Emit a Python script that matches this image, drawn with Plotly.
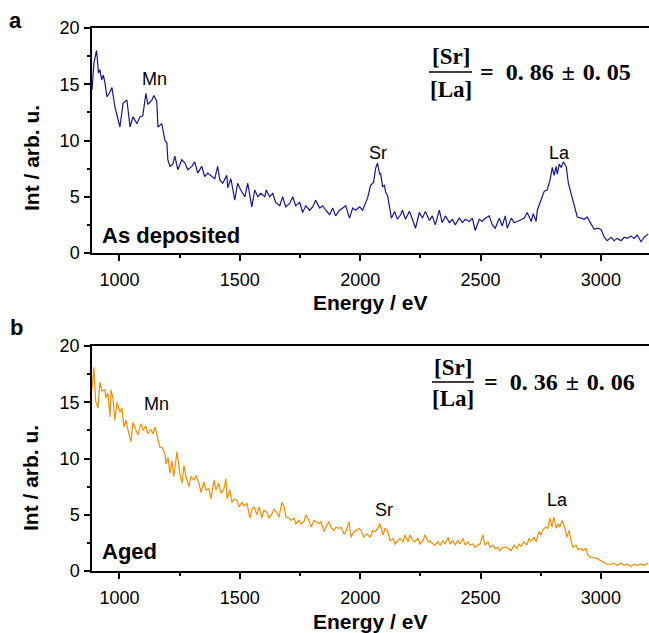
import plotly.graph_objects as go

# ---------------- data ----------------
top_energy = [886, 894, 905, 913, 919, 926, 933, 940, 948, 958, 969, 981, 1002, 1015, 1031, 1044,
              1056, 1073, 1085, 1097, 1110, 1118, 1135, 1143, 1155, 1160, 1176, 1189, 1197, 1201,
              1210, 1222, 1230, 1243, 1259, 1272, 1284, 1301, 1313, 1325, 1342, 1354, 1367, 1384,
              1396, 1408, 1417, 1429, 1446,
              1450, 1463, 1479, 1491, 1504, 1521, 1533, 1550, 1562, 1575, 1587, 1604, 1610, 1624,
              1637, 1649, 1666, 1678, 1691, 1707, 1720, 1732, 1749, 1761, 1774, 1790, 1803, 1815,
              1832, 1844, 1857, 1873, 1886, 1898, 1915, 1927, 1940, 1956, 1969, 1981, 1998, 2010,
              2031, 2043, 2056, 2064, 2072, 2081, 2085, 2093, 2101, 2106, 2114, 2122, 2130, 2143,
              2155, 2168, 2176, 2188, 2205, 2217, 2230, 2246, 2259, 2271, 2288, 2300, 2312, 2329,
              2341, 2354, 2371, 2383, 2395, 2412, 2425, 2437, 2454, 2466, 2478, 2495, 2507, 2520,
              2536, 2549, 2561, 2578, 2590, 2603,
              2611, 2628, 2640, 2653, 2669, 2682, 2694, 2711, 2719, 2731, 2736, 2744, 2756, 2765,
              2777, 2789, 2798, 2806, 2814, 2819, 2827, 2835, 2844, 2856, 2865, 2877, 2885, 2893,
              2902, 2918, 2931, 2943, 2960, 2972, 2985, 3001, 3014, 3026, 3043, 3055, 3068, 3084,
              3097, 3109, 3126, 3138, 3151, 3167, 3180, 3197]
top_intensity = [14.5, 16.9, 18.0, 16.0, 16.3, 15.4, 15.8, 15.1, 13.9, 14.2, 14.7, 13.0, 11.2, 13.3, 13.6, 11.2,
                 12.1, 11.5, 12.1, 12.2, 14.2, 13.2, 13.6, 14.0, 13.5, 11.2, 11.5, 10.0, 9.8, 8.3,
                 7.7, 7.9, 8.6, 7.4, 8.3, 8.0, 7.4, 7.7, 8.1, 7.1, 7.7, 6.8, 7.1, 6.8,
                 6.6, 7.7, 6.5, 6.2, 6.9,
                 5.8, 6.6, 4.7, 6.2, 5.6, 5.0, 6.2, 4.1, 5.6, 5.0, 5.3, 5.0, 5.6, 5.0,
                 5.3, 4.5, 4.2, 5.0, 4.1, 4.4, 5.0, 4.2, 4.5, 3.6, 4.2, 3.8, 4.1, 4.7,
                 4.0, 4.2, 3.8, 3.4, 4.0, 3.3, 3.8, 4.0, 4.2, 3.1, 4.0, 3.8, 4.1, 3.8,
                 4.9, 6.0, 6.3, 7.5, 8.0, 7.0, 7.1, 5.9, 6.0, 5.4, 5.1, 4.1, 3.1, 3.7,
                 3.0, 3.4, 3.8, 3.0, 3.7, 3.0, 2.2, 3.6, 3.1, 3.7, 2.9, 3.3, 2.5, 3.8,
                 2.7, 3.3, 2.7, 3.0, 2.5, 3.1, 2.7, 3.0, 2.8, 3.1, 2.0, 3.0, 2.8, 3.1,
                 3.3, 2.5, 2.2, 3.1, 2.4, 3.3,
                 2.2, 3.1, 2.7, 2.8, 3.0, 3.1, 3.6, 2.8, 3.5, 2.8, 3.8, 4.3, 5.0, 5.5,
                 5.6, 6.5, 7.6, 6.9, 7.7, 7.0, 7.9, 7.6, 8.1, 7.7, 6.2, 5.3, 4.5, 4.1,
                 3.2, 3.1, 3.0, 3.2, 2.5, 2.1, 2.2, 2.1, 1.4, 1.1, 1.4, 1.1, 1.3, 1.1,
                 1.4, 1.3, 1.5, 1.3, 1.6, 1.0, 1.4, 1.7]

bottom_energy = [885, 894, 901, 911, 919, 927, 940, 944, 952, 961, 965, 973, 981, 990, 1002, 1010,
                 1019, 1027, 1035, 1048, 1056, 1069, 1077, 1089, 1098, 1110, 1118, 1131, 1139, 1148,
                 1156, 1168, 1177, 1189, 1193, 1202, 1210, 1218, 1226, 1239, 1251, 1260, 1268, 1276,
                 1289, 1297, 1310, 1318, 1330, 1339, 1351, 1359, 1372, 1380, 1393, 1401, 1413, 1422,
                 1434, 1443,
                 1447, 1459, 1467, 1476, 1488, 1497, 1509, 1517, 1530, 1542, 1551, 1559, 1571, 1580,
                 1592, 1600, 1613, 1621, 1634, 1642, 1654, 1663, 1675, 1683, 1692, 1704, 1713, 1725,
                 1733, 1746, 1754, 1767, 1775, 1787, 1796, 1808, 1816, 1829, 1837, 1850, 1858, 1870,
                 1879, 1891, 1900, 1912, 1920, 1933, 1941, 1954, 1962, 1974, 1983, 1995, 2003, 2016,
                 2028, 2041, 2053, 2062, 2074, 2082, 2095, 2103, 2116, 2124, 2136, 2145, 2157, 2166,
                 2178, 2186, 2199, 2207, 2220, 2228, 2240, 2249, 2261, 2269, 2282, 2290, 2303, 2311,
                 2323, 2332, 2344, 2352, 2365, 2373, 2386, 2394, 2406, 2415, 2427, 2436, 2448, 2456,
                 2469, 2477, 2490, 2498, 2510, 2519, 2531, 2539, 2552, 2560, 2573, 2581, 2593,
                 2610, 2627, 2639, 2652, 2660, 2668, 2681, 2693, 2701, 2710, 2722, 2731, 2743, 2751,
                 2760, 2772, 2780, 2789, 2797, 2805, 2814, 2822, 2830, 2839, 2851, 2859, 2868, 2876,
                 2884, 2897, 2905, 2918, 2926, 2938, 2947, 2959, 2972, 2984, 3001, 3013, 3026, 3042,
                 3055, 3067, 3084, 3096, 3109, 3125, 3138, 3150, 3167, 3179, 3196]
bottom_intensity = [16.0, 18.1, 15.1, 14.5, 16.8, 16.0, 16.1, 15.4, 15.8, 13.7, 16.1, 15.4, 13.4, 15.0, 14.1, 14.5,
                    12.8, 13.4, 12.6, 11.5, 13.2, 12.5, 12.1, 13.1, 12.5, 12.9, 12.2, 12.6, 12.2, 12.8,
                    12.1, 11.0, 11.0, 10.4, 9.5, 10.1, 8.7, 9.8, 8.4, 10.6, 8.7, 7.8, 9.4, 8.4,
                    7.5, 8.4, 8.1, 8.5, 7.8, 7.0, 7.9, 7.2, 7.3, 6.4, 8.1, 7.2, 7.8, 6.9,
                    7.3, 8.2,
                    6.4, 7.2, 6.1, 6.4, 6.3, 5.7, 6.1, 5.8, 6.0, 4.7, 5.5, 5.7, 5.0, 5.7,
                    4.7, 5.4, 5.2, 4.7, 5.1, 5.5, 5.2, 4.8, 6.1, 5.8, 4.8, 4.7, 4.5, 4.7,
                    4.2, 4.5, 4.2, 4.4, 5.0, 4.5, 3.9, 4.5, 4.4, 4.2, 4.4, 3.5, 3.9, 4.4,
                    3.9, 3.6, 3.9, 3.8, 3.9, 3.3, 3.5, 4.4, 3.0, 3.5, 3.6, 3.8, 3.6, 3.0,
                    3.3, 3.0, 3.6, 3.5, 3.8, 4.2, 3.2, 3.8, 3.5, 2.7, 2.9, 2.4, 2.7, 2.9,
                    2.6, 3.2, 2.6, 3.2, 2.7, 2.6, 2.9, 2.4, 2.7, 3.2, 2.6, 2.7, 2.4, 2.3,
                    2.6, 2.3, 2.7, 2.4, 3.0, 2.4, 2.7, 2.3, 2.7, 2.4, 2.9, 2.3, 2.6, 2.3,
                    2.4, 2.1, 2.3, 2.4, 3.2, 2.3, 2.6, 2.1, 2.3, 2.0, 2.1, 1.8, 2.1,
                    2.1, 1.8, 2.3, 2.0, 2.4, 2.2, 2.6, 2.3, 2.9, 2.6, 3.0, 2.6, 3.5, 3.2,
                    3.7, 3.9, 3.8, 4.7, 3.9, 4.8, 3.8, 4.2, 3.9, 4.5, 3.8, 3.0, 3.6, 2.7,
                    2.1, 2.3, 1.9, 2.0, 1.8, 2.0, 1.4, 1.2, 1.2, 1.1, 0.9, 0.7, 0.6, 0.6,
                    0.7, 0.5, 0.7, 0.5, 0.6, 0.4, 0.6, 0.5, 0.6, 0.5, 0.7]

x_range = [886, 3200]
y_range = [0, 20]
x_ticks = [1000, 1500, 2000, 2500, 3000]
x_minor_ticks = [1250, 1750, 2250, 2750]
y_ticks = [0, 5, 10, 15, 20]
y_minor_ticks = [2.5, 7.5, 12.5, 17.5]

x_title = "Energy / eV"
y_title = "Int / arb. u."
panel_letters = ["a", "b"]
sample_names = ["As deposited", "Aged"]
peak_names = ["Mn", "Sr", "La"]
ratio_values = ["0.86", "0.36"]
ratio_errors = ["0.05", "0.06"]

# ---------------- styling / layout ----------------
W, H = 649, 633
L, RGT = 92, 649
TOP, BOT = 28, 571
TOP_B, BOT_A = 346, 253

def px(xp):
    return (xp - L) / (RGT - L)

def py(yp):
    return (BOT - yp) / (BOT - TOP)

SANS = "Liberation Sans, Arial, sans-serif"
SERIF = "Liberation Serif, Times New Roman, serif"
BLUE = "rgb(22,22,150)"
ORANGE = "rgb(255,140,0)"

fig = go.Figure()
fig.add_trace(go.Scatter(x=top_energy, y=top_intensity, mode="lines",
                         line=dict(color=BLUE, width=1.2), xaxis="x", yaxis="y",
                         showlegend=False))
fig.add_trace(go.Scatter(x=bottom_energy, y=bottom_intensity, mode="lines",
                         line=dict(color=ORANGE, width=1.2), xaxis="x2", yaxis="y2",
                         showlegend=False))

common = dict(showline=True, linecolor="black", linewidth=1.5, ticks="outside",
              ticklen=6, tickwidth=1.5, tickcolor="black", showgrid=False,
              zeroline=False, tickfont=dict(family=SANS, size=18, color="black"),
              fixedrange=True)
xax = dict(common, range=x_range, tickmode="array", tickvals=x_ticks, mirror=True,
           ticklabelstandoff=4,
           minor=dict(tickmode="array", tickvals=x_minor_ticks, ticks="outside",
                      ticklen=3, tickwidth=1.5, tickcolor="black", showgrid=False))
yax = dict(common, range=y_range, tickmode="array", tickvals=y_ticks,
           ticklabelstandoff=1,
           minor=dict(tickmode="array", tickvals=y_minor_ticks, ticks="outside",
                      ticklen=3, tickwidth=1.5, tickcolor="black", showgrid=False))

fig.update_layout(
    width=W, height=H,
    margin=dict(l=L, r=W - RGT, t=TOP, b=H - BOT, pad=0),
    paper_bgcolor="white", plot_bgcolor="white",
    xaxis=dict(xax, domain=[0, 1], anchor="y"),
    yaxis=dict(yax, domain=[py(BOT_A), 1], anchor="x"),
    xaxis2=dict(xax, domain=[0, 1], anchor="y2"),
    yaxis2=dict(yax, domain=[0, py(TOP_B)], anchor="x2"),
)

ann = []

def text(x, y, s, size, family=SANS, bold=False, xanchor="center", yanchor="middle", angle=0):
    ann.append(dict(x=px(x), y=py(y), xref="paper", yref="paper", text=(f"<b>{s}</b>" if bold else s),
                    showarrow=False, xanchor=xanchor, yanchor=yanchor, textangle=angle,
                    font=dict(family=family, size=size, color="black")))

# panel letters
text(15.5, 21, panel_letters[0], 22, bold=True)
text(16, 327, panel_letters[1], 22, bold=True)
# y titles
text(31, 158, y_title, 21, bold=True, angle=-90)
text(30, 478, y_title, 21, bold=True, angle=-90)
# x titles
text(370, 302, x_title, 21, bold=True)
text(370, 621, x_title, 21, bold=True)
# sample names
text(100, 235, sample_names[0], 22, bold=True, xanchor="left")
text(100, 551, sample_names[1], 22, bold=True, xanchor="left")
# peak labels
for (xx, yy), name in zip([(154, 79), (378, 153), (559, 153)], peak_names):
    text(xx, yy, name, 18)
for (xx, yy), name in zip([(156, 404), (384, 510), (557, 500)], peak_names):
    text(xx, yy, name, 18)

# ratio formulas
shapes = []
for (cx, y_num, y_line, y_den, x0, x1, xeq), val, err in zip(
        [(451, 57, 72, 89.5, 429, 472, 478), (453, 367, 382, 398, 432, 474, 482)],
        ratio_values, ratio_errors):
    text(cx, y_num, "[Sr]", 23, family=SERIF, bold=True)
    text(cx, y_den, "[La]", 23, family=SERIF, bold=True)
    shapes.append(dict(type="line", xref="paper", yref="paper", x0=px(x0), x1=px(x1),
                       y0=py(y_line), y1=py(y_line), line=dict(color="black", width=1.5)))
    v0, v1 = val.split(".")
    e0, e1 = err.split(".")
    s = f"=\u2002{v0}.\u2005{v1}\u2004±\u2004{e0}.\u2005{e1}"
    text(xeq, y_line, s, 24, family=SERIF, bold=True, xanchor="left")

fig.update_layout(annotations=ann, shapes=shapes)
fig.write_html("out.html")
